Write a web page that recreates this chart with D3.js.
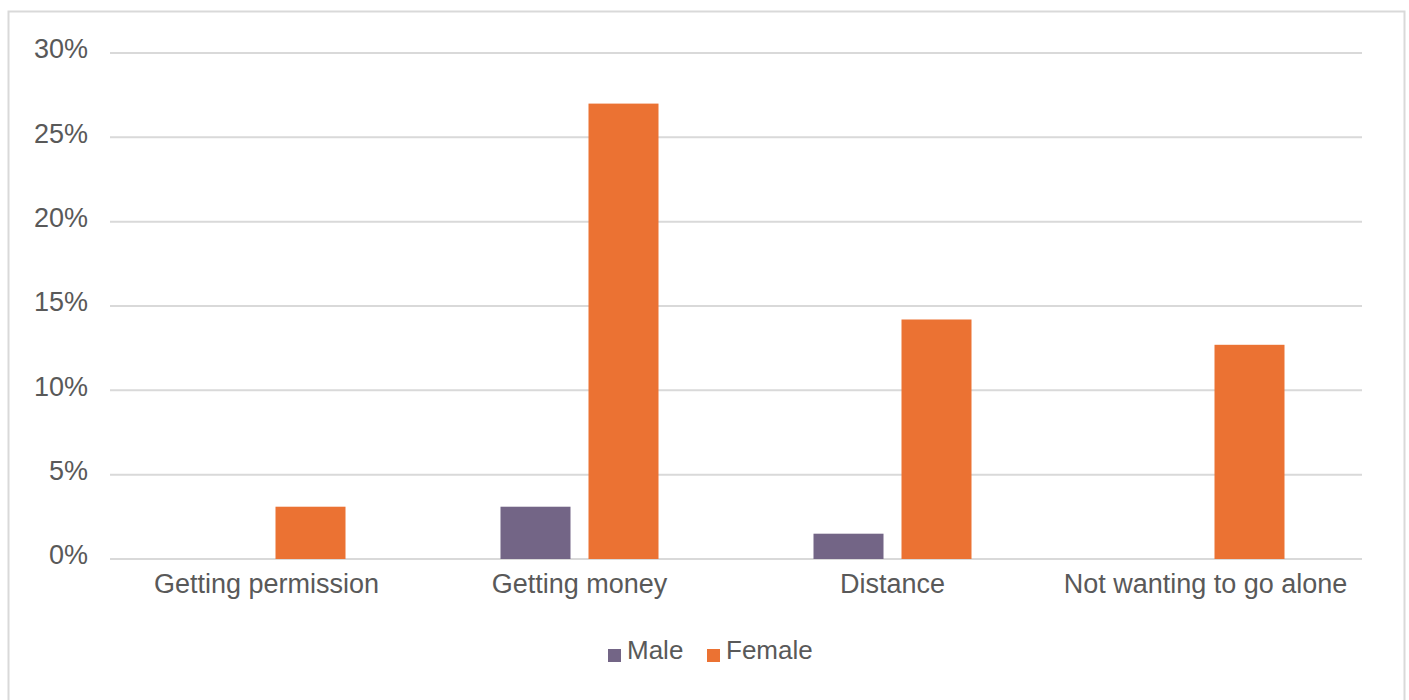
<!DOCTYPE html>
<html>
<head>
<meta charset="utf-8">
<script src="https://cdn.jsdelivr.net/npm/d3@7"></script>
<style>
  html, body { margin: 0; padding: 0; background: #fff; }
  svg { display: block; font-family: "Liberation Sans", Arial, sans-serif; }
</style>
</head>
<body>
<svg id="chart" width="1409" height="700"></svg>
<script>
// Barriers to access, share of respondents by gender
const categories = ["Getting permission", "Getting money", "Distance", "Not wanting to go alone"];
const seriesNames = ["Male", "Female"];
const maleValues = [0, 3.1, 1.5, 0];
const femaleValues = [3.1, 27.0, 14.2, 12.7];
const yTicks = [0, 5, 10, 15, 20, 25, 30];

const colors = { Male: "#736586", Female: "#EB7233" };
const gridColor = "#d9d9d9";
const textColor = "#595959";
const fontSize = 27;

const svg = d3.select("#chart");

// outer frame
svg.append("rect")
  .attr("x", 8.5).attr("y", 11.5)
  .attr("width", 1396).attr("height", 720)
  .attr("fill", "none").attr("stroke", gridColor).attr("stroke-width", 2);

const plot = { left: 110, right: 1362, top: 53, bottom: 559 };

const x = d3.scaleBand().domain(categories).range([plot.left, plot.right]).padding(0);
const y = d3.scaleLinear().domain([0, 30]).range([plot.bottom, plot.top]);

// gridlines
svg.append("g").selectAll("line").data(yTicks).join("line")
  .attr("x1", plot.left).attr("x2", plot.right)
  .attr("y1", d => y(d)).attr("y2", d => y(d))
  .attr("stroke", gridColor).attr("stroke-width", 2);

// y axis labels
const yAxis = d3.axisLeft(y).tickValues(yTicks).tickFormat(d => d + "%").tickSize(0).tickPadding(22);
const yg = svg.append("g").attr("transform", `translate(${plot.left},0)`).call(yAxis);
yg.select(".domain").remove();
yg.selectAll("text")
  .attr("fill", textColor).attr("font-size", fontSize)
  .attr("font-family", "Liberation Sans, Arial, sans-serif")
  .attr("y", -5).attr("dy", "0.36em");

// bars
const barW = 70, gap = 18;
const data = categories.map((c, i) => ({ cat: c, Male: maleValues[i], Female: femaleValues[i] }));
const groups = svg.append("g").selectAll("g").data(data).join("g")
  .attr("transform", d => `translate(${x(d.cat) + x.bandwidth() / 2},0)`);

groups.selectAll("rect").data(d => seriesNames.map((s, j) => ({ s, j, v: d[s] })).filter(e => e.v > 0)).join("rect")
  .attr("x", e => e.j === 0 ? -gap / 2 - barW : gap / 2)
  .attr("width", barW)
  .attr("y", e => y(e.v))
  .attr("height", e => y(0) - y(e.v))
  .attr("fill", e => colors[e.s]);

// category labels
const xAxis = d3.axisBottom(x).tickSize(0).tickPadding(15);
const xg = svg.append("g").attr("transform", `translate(0,${plot.bottom})`).call(xAxis);
xg.select(".domain").remove();
xg.selectAll("text")
  .attr("fill", textColor).attr("font-size", fontSize)
  .attr("font-family", "Liberation Sans, Arial, sans-serif");

// legend
const legendItems = [{ s: "Male", x: 608 }, { s: "Female", x: 707 }];
const lg = svg.append("g").selectAll("g").data(legendItems).join("g")
  .attr("transform", d => `translate(${d.x},659)`);
lg.append("rect").attr("x", 0).attr("y", -10).attr("width", 13).attr("height", 13).attr("fill", d => colors[d.s]);
lg.append("text").attr("x", 19).attr("y", 0)
  .attr("fill", textColor).attr("font-size", 26).text(d => d.s);
</script>
</body>
</html>
